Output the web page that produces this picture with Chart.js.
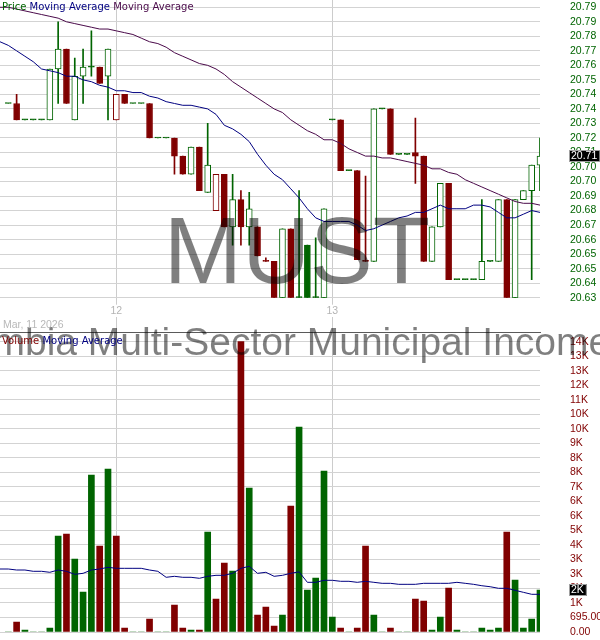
<!DOCTYPE html>
<html><head><meta charset="utf-8">
<script src="https://cdn.jsdelivr.net/npm/chart.js@4.4.1/dist/chart.umd.min.js"></script>
<style>
html,body{margin:0;padding:0;background:#fff;}
#wrap{position:relative;width:600px;height:640px;overflow:hidden;background:#fff;}
canvas{position:absolute;left:0;}
.t{position:absolute;white-space:nowrap;pointer-events:none;}
</style></head><body>
<div id="wrap">
<canvas id="pc" width="600" height="317" style="top:0"></canvas>
<canvas id="vc" width="600" height="323" style="top:317px"></canvas>
<div class="t" style="left:297px;top:204px;transform:translateX(-50%);font:94px/94px 'Liberation Sans',Arial,sans-serif;color:rgba(0,0,0,0.5)">MUST</div>
<div class="t" style="left:310px;top:322px;transform:translateX(-50%);font:39px/39px 'Liberation Sans',Arial,sans-serif;color:rgba(0,0,0,0.5)">Columbia Multi-Sector Municipal Income Trust</div>
<div class="t" style="left:2px;top:1px;font:10px/12px 'DejaVu Sans',sans-serif"><span style="color:#006400">Price</span> <span style="color:#000080">Moving Average</span> <span style="color:#4a0a4a">Moving Average</span></div>
<div class="t" style="left:2px;top:335px;font:10px/12px 'DejaVu Sans',sans-serif"><span style="color:#800000">Volume</span> <span style="color:#000080">Moving Average</span></div>
<div class="t" style="left:3px;top:318px;font:10.5px/13px 'Liberation Sans',Arial,sans-serif;color:#b8b8b8">Mar, 11 2026</div>
</div>
<script>
// ---- categories (15-minute bars); first entry is a leading empty slot ----
const session = ['09:30','09:45','10:00','10:15','10:30','10:45','11:00','11:15','11:30','11:45','12:00','12:15','12:30','12:45','13:00','13:15','13:30','13:45','14:00','14:15','14:30','14:45','15:00','15:15','15:30','15:45'];
const categories = [
  ...session.slice(12).map(t => 'Mar 11 ' + t),
  ...session.map(t => 'Mar 12 ' + t),
  ...session.map(t => 'Mar 13 ' + t)
];

// ---- price candles (65 bars, start at categories[1]) ----
const open  = [20.737,20.737,20.728,20.728,20.728,20.728,20.756,20.767,20.728,20.752,20.757,20.757,20.752,20.728,20.742,20.737,20.737,20.737,20.718,20.718,20.718,20.708,20.698,20.713,20.688,20.678,20.698,20.669,20.684,20.669,20.669,20.650,20.650,20.630,20.668,20.630,20.659,20.630,20.630,20.728,20.728,20.700,20.700,20.650,20.650,20.734,20.734,20.709,20.709,20.710,20.708,20.650,20.669,20.693,20.640,20.640,20.640,20.640,20.650,20.650,20.684,20.630,20.684,20.689,20.703];
const high  = [20.737,20.742,20.728,20.728,20.728,20.756,20.782,20.767,20.762,20.767,20.777,20.757,20.767,20.742,20.742,20.737,20.737,20.737,20.718,20.718,20.718,20.708,20.713,20.713,20.726,20.698,20.698,20.698,20.689,20.688,20.669,20.652,20.650,20.668,20.668,20.689,20.659,20.663,20.679,20.728,20.728,20.700,20.700,20.697,20.734,20.734,20.734,20.709,20.709,20.729,20.708,20.669,20.693,20.693,20.640,20.640,20.640,20.684,20.650,20.684,20.684,20.684,20.689,20.703,20.718];
const low   = [20.737,20.728,20.728,20.728,20.728,20.728,20.737,20.737,20.728,20.737,20.752,20.748,20.728,20.728,20.737,20.737,20.737,20.718,20.718,20.718,20.698,20.698,20.698,20.689,20.688,20.678,20.669,20.659,20.659,20.659,20.653,20.650,20.630,20.630,20.630,20.630,20.630,20.630,20.630,20.728,20.700,20.700,20.651,20.650,20.650,20.734,20.709,20.709,20.709,20.693,20.650,20.650,20.669,20.640,20.640,20.640,20.640,20.640,20.650,20.650,20.630,20.630,20.684,20.640,20.689];
const close = [20.737,20.728,20.728,20.728,20.728,20.756,20.767,20.737,20.752,20.757,20.757,20.748,20.767,20.742,20.737,20.737,20.737,20.718,20.718,20.718,20.708,20.698,20.713,20.689,20.703,20.698,20.669,20.684,20.669,20.679,20.653,20.650,20.630,20.668,20.630,20.630,20.630,20.630,20.679,20.728,20.700,20.700,20.651,20.650,20.734,20.734,20.709,20.709,20.709,20.708,20.650,20.669,20.693,20.640,20.640,20.640,20.640,20.650,20.650,20.684,20.630,20.684,20.689,20.703,20.708];

// ---- price moving averages (66 points, include leading slot) ----
const maFast = [20.771,20.769,20.766,20.763,20.760,20.756,20.755,20.754,20.752,20.752,20.750,20.749,20.747,20.746,20.744,20.744,20.743,20.743,20.741,20.740,20.738,20.737,20.736,20.736,20.735,20.734,20.731,20.725,20.723,20.720,20.716,20.709,20.703,20.698,20.695,20.690,20.685,20.679,20.674,20.672,20.672,20.672,20.672,20.670,20.667,20.668,20.670,20.672,20.674,20.675,20.677,20.677,20.679,20.681,20.679,20.679,20.679,20.681,20.681,20.680,20.677,20.674,20.674,20.676,20.678,20.677];
const maSlow = [20.790,20.790,20.789,20.788,20.787,20.786,20.785,20.784,20.782,20.781,20.780,20.779,20.778,20.778,20.777,20.776,20.775,20.773,20.771,20.770,20.768,20.765,20.763,20.761,20.759,20.758,20.756,20.753,20.749,20.746,20.743,20.740,20.737,20.734,20.732,20.728,20.725,20.722,20.720,20.717,20.717,20.715,20.712,20.710,20.708,20.708,20.707,20.707,20.706,20.705,20.704,20.703,20.701,20.701,20.699,20.698,20.695,20.693,20.691,20.689,20.687,20.685,20.683,20.682,20.682,20.681];

// ---- volume (65 bars) and its moving average (66 points) ----
const volume = [0,479,96,0,0,191,4596,4691,3494,1915,7516,4117,7803,4596,191,0,0,622,0,0,1292,191,96,96,4787,1580,3303,2920,13900,6893,814,1197,287,814,6032,9813,2011,2585,7707,718,191,0,191,4117,814,0,191,0,0,1580,1484,96,718,2106,96,0,0,191,96,191,4787,2489,191,622,2011];
const volMA = [3016,3016,2968,2968,2906,2906,2858,2968,2906,2762,2810,2968,3016,3097,3049,3049,3049,3049,2968,2906,2619,2666,2619,2619,2571,2666,2714,2714,2810,3049,3145,2810,2858,2666,2714,2810,2880,2379,2379,2475,2475,2427,2427,2379,2427,2379,2331,2331,2283,2283,2283,2331,2331,2331,2331,2379,2331,2283,2216,2168,2092,2092,1996,1900,1805,1805];

// ---- axis tick values and labels ----
const priceTickValues = [20.630,20.638,20.646,20.654,20.662,20.670,20.678,20.686,20.694,20.702,20.710,20.718,20.726,20.734,20.742,20.750,20.758,20.766,20.774,20.782,20.790];
const priceTickLabels = ['20.63','20.64','20.65','20.65','20.66','20.67','20.68','20.69','20.70','20.70','20.71','20.72','20.73','20.74','20.74','20.75','20.76','20.77','20.78','20.79','20.79'];
const volumeTickValues = [0,695,1390,2085,2780,3475,4170,4865,5560,6255,6950,7645,8340,9035,9730,10425,11120,11815,12510,13205,13900];
const volumeTickLabels = ['0.00','695.00','1K','2K','3K','3K','4K','5K','6K','6K','7K','8K','8K','9K','10K','10K','11K','12K','13K','13K','14K'];

// ---- styles ----
const GREEN = '#006400', RED = '#800000', NAVY = '#000080', PURPLE = '#4a0a4a';
const FONT = "'Liberation Sans', Arial, sans-serif";
Chart.defaults.font.family = FONT;

const candleColor = close.map((c, i) => (i > 0 && c < close[i - 1]) ? RED : GREEN);
const bodyFill = close.map((c, i) => (c <= open[i]) ? candleColor[i] : '#ffffff');

const bodies = [null, ...open.map((o, i) => [o, close[i]])];
const wicks = [null, ...low.map((l, i) => [l, high[i]])];
const cc = ['#ffffff', ...candleColor];
const bf = ['#ffffff', ...bodyFill];
const volData = [null, ...volume];

const dayStart = v => categories[v] && categories[v].endsWith('09:30') && !categories[v].startsWith('Mar 11');
const dayLabel = v => dayStart(v) ? categories[v].split(' ')[1] : '';

function noPad(s) { s.paddingTop = 0; s.paddingBottom = 0; s.paddingLeft = 0; s.paddingRight = 0; }

function lastBox(valueFn, textFn) {
  return {
    id: 'lastBox',
    afterDraw(chart) {
      const ys = chart.scales.y;
      const v = valueFn();
      const py = ys.getPixelForValue(v);
      const ctx = chart.ctx;
      ctx.save();
      ctx.font = '10.5px ' + FONT;
      const txt = textFn(v);
      const w = ctx.measureText(txt).width;
      const x0 = Math.round(ys.left + 29);
      const top = Math.round(py - 6);
      ctx.fillStyle = '#000';
      ctx.fillRect(x0, top, w + 5, 12);
      ctx.strokeStyle = '#a0a0a0';
      ctx.lineWidth = 1;
      ctx.strokeRect(x0 + 0.5, top + 0.5, w + 4, 11);
      ctx.fillStyle = '#fff';
      ctx.textBaseline = 'middle';
      ctx.fillText(txt, x0 + 2, top + 6.5);
      ctx.restore();
    }
  };
}

const xCommon = {
  type: 'category',
  offset: false,
  afterBuildTicks: s => { s.ticks = s.ticks.filter(t => dayStart(t.value)); }
};

new Chart(document.getElementById('pc'), {
  type: 'bar',
  data: {
    labels: categories,
    datasets: [
      { type: 'line', label: 'Moving Average', data: maFast, borderColor: NAVY, borderWidth: 1, pointRadius: 0, tension: 0, order: 0 },
      { type: 'line', label: 'Moving Average', data: maSlow, borderColor: PURPLE, borderWidth: 1, pointRadius: 0, tension: 0, order: 0 },
      { label: 'Price', data: bodies, backgroundColor: bf, borderColor: cc, borderWidth: 1, borderSkipped: false, barThickness: 6, minBarLength: 1, grouped: false, order: 1 },
      { label: 'Range', data: wicks, backgroundColor: cc, borderWidth: 0, barThickness: 1, grouped: false, order: 2 }
    ]
  },
  options: {
    responsive: false, animation: false, events: [],
    layout: { padding: 0, autoPadding: false },
    plugins: { legend: { display: false }, tooltip: { enabled: false } },
    scales: {
      x: Object.assign({}, xCommon, {
        position: 'bottom',
        grid: { offset: false, color: '#cccccc', lineWidth: 1, drawTicks: true, tickLength: 7 },
        border: { display: false },
        ticks: { autoSkip: false, maxRotation: 0, padding: 0, color: '#b4b4b4', font: { size: 10.5 }, callback: v => dayLabel(v) },
        afterFit: s => { s.height = 19.3; noPad(s); }
      }),
      y: {
        position: 'right', min: 20.63, max: 20.794,
        afterBuildTicks: s => { s.ticks = priceTickValues.map(v => ({ value: v })); },
        ticks: { autoSkip: false, padding: 30, color: GREEN, font: { size: 10.5 }, callback: (v, i) => priceTickLabels[i] },
        grid: { color: '#d3d3d3', drawTicks: false, lineWidth: 1 },
        border: { display: false },
        afterFit: s => { s.width = 60; noPad(s); }
      }
    }
  },
  plugins: [lastBox(() => close[close.length - 1], v => v.toFixed(2))]
});

new Chart(document.getElementById('vc'), {
  type: 'bar',
  data: {
    labels: categories,
    datasets: [
      { type: 'line', label: 'Moving Average', data: volMA, borderColor: NAVY, borderWidth: 1, pointRadius: 0, tension: 0, order: 0 },
      { label: 'Volume', data: volData, backgroundColor: cc, borderWidth: 0, barThickness: 6, order: 1 }
    ]
  },
  options: {
    responsive: false, animation: false, events: [],
    layout: { padding: { top: 0, left: 0, right: 0, bottom: 8 }, autoPadding: false },
    plugins: { legend: { display: false }, tooltip: { enabled: false } },
    scales: {
      x: Object.assign({}, xCommon, {
        position: 'top',
        grid: { offset: false, color: '#cccccc', lineWidth: 1, drawTicks: true, tickLength: 15.3 },
        border: { display: true, color: '#5a5a5a', width: 1 },
        ticks: { display: false },
        afterFit: s => { s.height = 15.3; noPad(s); }
      }),
      y: {
        position: 'right', min: 0, max: 14350,
        afterBuildTicks: s => { s.ticks = volumeTickValues.map(v => ({ value: v })); },
        ticks: { autoSkip: false, padding: 30, color: RED, font: { size: 10.5 }, callback: (v, i) => volumeTickLabels[i] },
        grid: { color: '#d3d3d3', drawTicks: false, lineWidth: 1 },
        border: { display: false },
        afterFit: s => { s.width = 60; noPad(s); }
      }
    }
  },
  plugins: [lastBox(() => volume[volume.length - 1], v => Math.round(v / 1000) + 'K')]
});
</script>
</body></html>
